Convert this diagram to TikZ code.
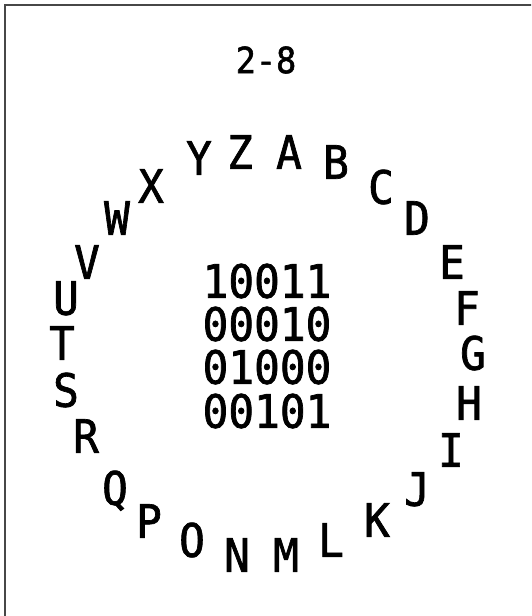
\documentclass[tikz,border=0pt]{standalone}
\usepackage{fontspec}
\newfontfamily\dvm[FakeBold=1.5,FakeStretch=0.93]{DejaVu Sans Mono}
\begin{document}
\begin{tikzpicture}[x=1pt,y=-1pt,
  ltr/.style={font=\dvm\fontsize{46}{54}\selectfont, inner sep=0pt, text height=33.5pt, text depth=0pt, anchor=center},
  num/.style={font=\dvm\fontsize{46}{54}\selectfont, inner sep=0pt, text height=33.5pt, text depth=0pt, anchor=center},
  ttl/.style={font=\dvm\fontsize{36}{43}\selectfont, inner sep=0pt, text height=26.2pt, text depth=0pt, anchor=center}]
\useasboundingbox (0,0) rectangle (531,616);
\clip (0,0) rectangle (531,616);
\fill[white] (0,0) rectangle (531,616);
\draw[line width=2pt, color=black!72] (5,640) -- (5,5) -- (560,5);
\node[ttl] (title) at (266,60) {2-8};
\node[num] (n1) at (267,281) {10011};
\node[num] (n2) at (267,324) {00010};
\node[num] (n3) at (267,367) {01000};
\node[num] (n4) at (267,411) {00101};
\node[ltr] (A) at (289,152) {A};
\node[ltr] (B) at (336,162) {B};
\node[ltr] (C) at (381,187) {C};
\node[ltr] (D) at (417,218) {D};
\node[ltr] (E) at (452,262) {E};
\node[ltr] (F) at (467,308) {F};
\node[ltr] (G) at (473,353) {G};
\node[ltr] (H) at (469,403) {H};
\node[ltr] (I) at (451,450) {I};
\node[ltr] (J) at (417,489) {J};
\node[ltr] (K) at (377,520) {K};
\node[ltr] (L) at (331,540) {L};
\node[ltr] (M) at (286,555) {M};
\node[ltr] (N) at (237,555) {N};
\node[ltr] (O) at (192,540) {O};
\node[ltr] (P) at (149,521) {P};
\node[ltr] (Q) at (115,488) {Q};
\node[ltr] (R) at (86,436) {R};
\node[ltr] (S) at (66,390) {S};
\node[ltr] (T) at (62,343) {T};
\node[ltr] (U) at (66,298) {U};
\node[ltr] (V) at (87,262) {V};
\node[ltr] (W) at (117,218) {W};
\node[ltr] (X) at (151,186) {X};
\node[ltr] (Y) at (199,158) {Y};
\node[ltr] (Z) at (240,152) {Z};
\end{tikzpicture}
\end{document}
